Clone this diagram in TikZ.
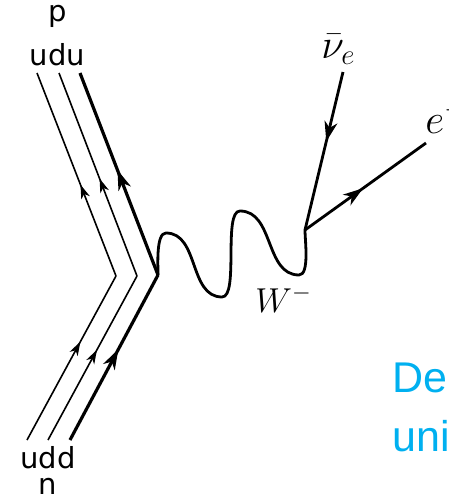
\documentclass[tikz,border=0pt]{standalone}
\usepackage{fontspec}
\setsansfont{DejaVu Sans}
\newfontfamily\notefont{Liberation Sans}
\usetikzlibrary{arrows.meta, positioning, decorations.markings}
\definecolor{noteblue}{RGB}{0,176,240}

\begin{document}
\begin{tikzpicture}[
      x=0.5pt, y=0.5pt,
      quark/.style={line width=0.8pt},
      heavyquark/.style={line width=1.6pt},
      lepton/.style={line width=1.4pt},
      boson/.style={line width=1.4pt, line cap=round},
      thinhead/.style={postaction={decorate}, decoration={markings,
          mark=at position #1 with {\arrow{Stealth[length=7pt, width=4.5pt, inset=2pt]}}}},
      thickhead/.style={postaction={decorate}, decoration={markings,
          mark=at position #1 with {\arrow{Stealth[length=10pt, width=6.5pt, inset=3pt]}}}},
      quarklabel/.style={font=\sffamily\fontsize{14.5pt}{17pt}\selectfont, inner sep=1pt},
      particle/.style={inner sep=0pt, font=\fontsize{20.74pt}{24pt}\selectfont},
      note/.style={anchor=base west, inner sep=0pt, text=noteblue,
          font=\notefont\fontsize{21.5pt}{26pt}\selectfont}
    ]
    \useasboundingbox (0,0) rectangle (449,500);
    \clip (0,0) rectangle (449,500);

    % quark lines of the nucleon
    \coordinate (pq1) at (37,427);
    \coordinate (pq2) at (59,427);
    \coordinate (pq3) at (80,427);
    \coordinate (kink1) at (116,224);
    \coordinate (kink2) at (137,224);
    \coordinate (kink3) at (158,225);
    \coordinate (nq1) at (27,60);
    \coordinate (nq2) at (48,60);
    \coordinate (nq3) at (70,60);

    \draw[quark, thinhead=0.45] (kink1) -- (pq1);
    \draw[quark, thinhead=0.48] (kink2) -- (pq2);
    \draw[heavyquark, thickhead=0.52] (kink3) -- (pq3);
    \draw[quark, thinhead=0.6] (nq1) -- (kink1);
    \draw[quark, thinhead=0.55] (nq2) -- (kink2);
    \draw[heavyquark, thickhead=0.55] (nq3) -- (kink3);

    \node[quarklabel, anchor=base] (udu) at (57.5,435) {udu};
    \node[quarklabel, above=5.5pt of udu] (proton) {p};
    \node[quarklabel, anchor=base] (udd) at (48,32) {udd};
    \node[quarklabel, below=2.6pt of udd] (neutron) {n};

    % W boson
    \coordinate (crest1) at (166,267);
    \coordinate (trough1) at (222,203);
    \coordinate (crest2) at (240,289);
    \coordinate (trough2) at (299,225);
    \coordinate (weak) at (305,270);
    \draw[boson] (kink3) to[out=90, in=180, looseness=0.6] (crest1)
      to[out=0, in=180] (trough1)
      to[out=0, in=180, looseness=0.5] (crest2)
      to[out=0, in=180] (trough2)
      to[out=0, in=-90, looseness=0.6] (weak);
    \node[particle, anchor=base west, font=\fontsize{17.28pt}{20pt}\selectfont] (wlabel) at (255,188) {$W^{-}$};

    % leptons
    \coordinate (nuend) at (343,428);
    \coordinate (eend) at (426,357);
    \draw[lepton, thickhead=0.44] (nuend) -- (weak);
    \draw[lepton, thickhead=0.48] (weak) -- (eend);
    \node[particle, anchor=base west] (nulabel) at (321,442) {$\bar{\nu}_e$};
    \node[particle, anchor=base west] (elabel) at (425,367) {$e^{-}$};

    % cut-off caption
    \node[note] (capline1) at (392,107) {De};
    \node[note] (capline2) at (392,48) {uni};
  \end{tikzpicture}
\end{document}
